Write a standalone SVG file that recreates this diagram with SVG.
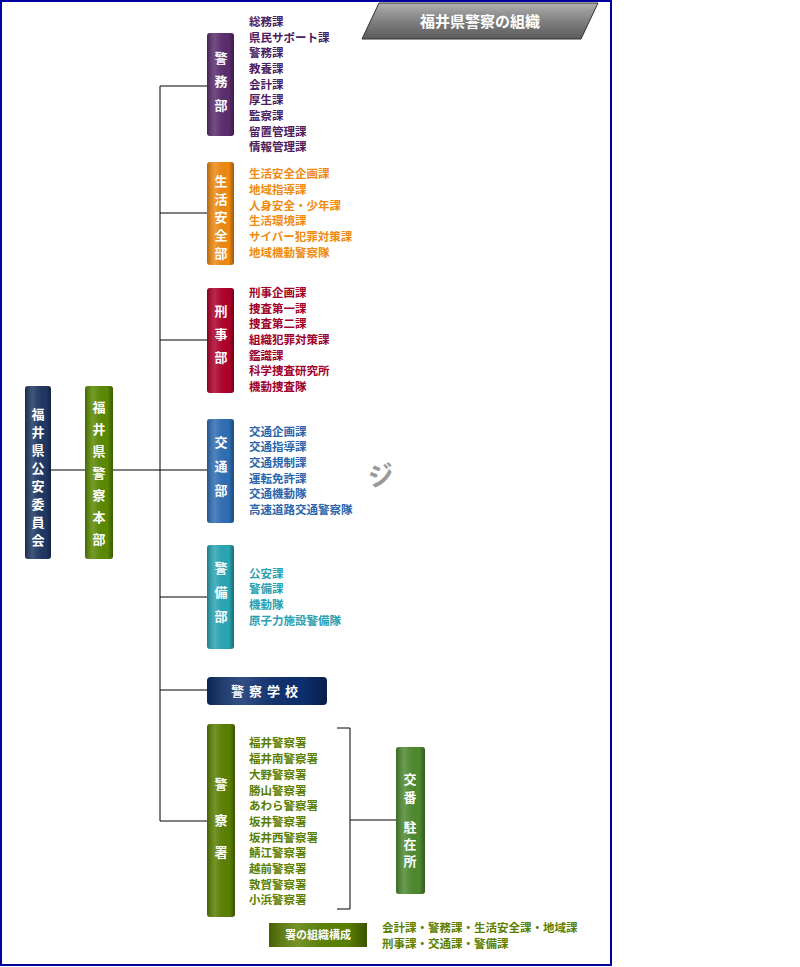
<svg xmlns="http://www.w3.org/2000/svg" width="800" height="967" viewBox="0 0 800 967">
<defs>
<linearGradient id="gb" x1="0" y1="0" x2="0" y2="1"><stop offset="0" stop-color="#b0b0b0"/><stop offset="0.5" stop-color="#808080"/><stop offset="1" stop-color="#5a5a5a"/></linearGradient>
<linearGradient id="sh" x1="0" y1="0" x2="1" y2="0"><stop offset="0" stop-color="#000" stop-opacity="0.25"/><stop offset="0.3" stop-color="#fff" stop-opacity="0.15"/><stop offset="0.8" stop-color="#000" stop-opacity="0"/><stop offset="1" stop-color="#000" stop-opacity="0.35"/></linearGradient>
</defs>
<style>
text{font-family:"Noto Sans CJK JP","Noto Sans CJK SC",sans-serif;font-weight:bold}
.v{fill:#fff;font-size:13px;text-anchor:middle}
.l{font-size:11.5px}
.c line,.c path{stroke:#000;stroke-width:1;fill:none}
</style>
<rect x="1" y="1" width="610" height="964" fill="#fff" stroke="#0000a0" stroke-width="2"/>
<g id="title">
<polygon points="362,39 379,3 598,3 581,39" fill="url(#gb)" stroke="#333" stroke-width="1"/>
<text x="480" y="27" fill="#fff" font-size="15" text-anchor="middle">福井県警察の組織</text>
</g>
<g class="c" id="connectors">
<line x1="51" y1="470" x2="85" y2="470"/>
<line x1="113" y1="470" x2="160" y2="470"/>
<line x1="160" y1="86" x2="160" y2="821"/>
<line x1="160" y1="86" x2="207" y2="86"/>
<line x1="160" y1="213" x2="207" y2="213"/>
<line x1="160" y1="340" x2="207" y2="340"/>
<line x1="160" y1="470" x2="207" y2="470"/>
<line x1="160" y1="597" x2="207" y2="597"/>
<line x1="160" y1="690" x2="207" y2="690"/>
<line x1="160" y1="821" x2="207" y2="821"/>
<path d="M337,728 H350 V909 H337"/>
<line x1="350" y1="820" x2="396" y2="820"/>
</g>
<g id="koan">
<rect x="25" y="386" width="26" height="173" rx="3" fill="#1f3864"/><rect x="25" y="386" width="26" height="173" rx="3" fill="url(#sh)"/>
<text class="v" x="38" y="419">福</text><text class="v" x="38" y="437">井</text><text class="v" x="38" y="455">県</text><text class="v" x="38" y="473">公</text><text class="v" x="38" y="491">安</text><text class="v" x="38" y="509">委</text><text class="v" x="38" y="527">員</text><text class="v" x="38" y="545">会</text>
</g>
<g id="honbu">
<rect x="85" y="386" width="28" height="173" rx="3" fill="#5b8a00"/><rect x="85" y="386" width="28" height="173" rx="3" fill="url(#sh)"/>
<text class="v" x="99" y="412">福</text><text class="v" x="99" y="434">井</text><text class="v" x="99" y="456">県</text><text class="v" x="99" y="478">警</text><text class="v" x="99" y="500">察</text><text class="v" x="99" y="522">本</text><text class="v" x="99" y="544">部</text>
</g>
<g id="keimu">
<rect x="207" y="33" width="27" height="103" rx="3" fill="#5b2d6e"/><rect x="207" y="33" width="27" height="103" rx="3" fill="url(#sh)"/>
<text class="v" x="221" y="63">警</text><text class="v" x="221" y="86">務</text><text class="v" x="221" y="110">部</text>
<g class="l" fill="#4b2060"><text x="249" y="26">総務課</text><text x="249" y="42">県民サポート課</text><text x="249" y="57">警務課</text><text x="249" y="73">教養課</text><text x="249" y="89">会計課</text><text x="249" y="104">厚生課</text><text x="249" y="120">監察課</text><text x="249" y="136">留置管理課</text><text x="249" y="151">情報管理課</text></g>
</g>
<g id="seikatsu">
<rect x="207" y="162" width="27" height="103" rx="3" fill="#f08a10"/><rect x="207" y="162" width="27" height="103" rx="3" fill="url(#sh)"/>
<text class="v" x="221" y="186">生</text><text class="v" x="221" y="204">活</text><text class="v" x="221" y="222">安</text><text class="v" x="221" y="240">全</text><text class="v" x="221" y="258">部</text>
<g class="l" fill="#f08a10"><text x="249" y="178">生活安全企画課</text><text x="249" y="194">地域指導課</text><text x="249" y="210">人身安全・少年課</text><text x="249" y="225">生活環境課</text><text x="249" y="241">サイバー犯罪対策課</text><text x="249" y="257">地域機動警察隊</text></g>
</g>
<g id="keiji">
<rect x="207" y="288" width="27" height="105" rx="3" fill="#b0002a"/><rect x="207" y="288" width="27" height="105" rx="3" fill="url(#sh)"/>
<text class="v" x="221" y="316">刑</text><text class="v" x="221" y="339">事</text><text class="v" x="221" y="362">部</text>
<g class="l" fill="#a0002a"><text x="249" y="297">刑事企画課</text><text x="249" y="313">捜査第一課</text><text x="249" y="328">捜査第二課</text><text x="249" y="344">組織犯罪対策課</text><text x="249" y="360">鑑識課</text><text x="249" y="375">科学捜査研究所</text><text x="249" y="391">機動捜査隊</text></g>
</g>
<g id="kotsu">
<rect x="207" y="419" width="27" height="104" rx="3" fill="#2f6eb5"/><rect x="207" y="419" width="27" height="104" rx="3" fill="url(#sh)"/>
<text class="v" x="221" y="447">交</text><text class="v" x="221" y="471">通</text><text class="v" x="221" y="495">部</text>
<g class="l" fill="#2a66ad"><text x="249" y="436">交通企画課</text><text x="249" y="451">交通指導課</text><text x="249" y="467">交通規制課</text><text x="249" y="483">運転免許課</text><text x="249" y="498">交通機動隊</text><text x="249" y="514">高速道路交通警察隊</text></g>
<text x="368" y="485" fill="#999" font-size="26" font-weight="normal" transform="rotate(-10 380 475)">ジ</text>
</g>
<g id="keibi">
<rect x="207" y="545" width="27" height="104" rx="3" fill="#2aa6b5"/><rect x="207" y="545" width="27" height="104" rx="3" fill="url(#sh)"/>
<text class="v" x="221" y="573">警</text><text class="v" x="221" y="597">備</text><text class="v" x="221" y="621">部</text>
<g class="l" fill="#2aa0b0"><text x="249" y="578">公安課</text><text x="249" y="593">警備課</text><text x="249" y="609">機動隊</text><text x="249" y="625">原子力施設警備隊</text></g>
</g>
<g id="gakko">
<rect x="207" y="677" width="120" height="28" rx="4" fill="#0d2f6e"/><rect x="207" y="677" width="120" height="28" rx="4" fill="url(#sh)"/>
<text x="267" y="696" fill="#fff" font-size="13" text-anchor="middle" letter-spacing="5">警察学校</text>
</g>
<g id="keisatsusho">
<rect x="207" y="724" width="28" height="193" rx="3" fill="#5b8000"/><rect x="207" y="724" width="28" height="193" rx="3" fill="url(#sh)"/>
<text class="v" x="221" y="789">警</text><text class="v" x="221" y="825">察</text><text class="v" x="221" y="857">署</text>
<g class="l" fill="#5b8000"><text x="249" y="747">福井警察署</text><text x="249" y="763">福井南警察署</text><text x="249" y="779">大野警察署</text><text x="249" y="795">勝山警察署</text><text x="249" y="810">あわら警察署</text><text x="249" y="826">坂井警察署</text><text x="249" y="842">坂井西警察署</text><text x="249" y="857">鯖江警察署</text><text x="249" y="873">越前警察署</text><text x="249" y="889">敦賀警察署</text><text x="249" y="904">小浜警察署</text></g>
</g>
<g id="koban">
<rect x="396" y="747" width="29" height="147" rx="3" fill="#4e8a30"/><rect x="396" y="747" width="29" height="147" rx="3" fill="url(#sh)"/>
<text class="v" x="410" y="784">交</text><text class="v" x="410" y="802">番</text><text class="v" x="410" y="832">駐</text><text class="v" x="410" y="849">在</text><text class="v" x="410" y="866">所</text>
</g>
<g id="kosei">
<rect x="269" y="923" width="98" height="24" fill="#5b8000"/><rect x="269" y="923" width="98" height="24" fill="url(#sh)"/>
<text x="318" y="939" fill="#fff" font-size="11" text-anchor="middle">署の組織構成</text>
<g class="l" fill="#5b8000"><text x="382" y="932">会計課・警務課・生活安全課・地域課</text><text x="382" y="948">刑事課・交通課・警備課</text></g>
</g>
</svg>
